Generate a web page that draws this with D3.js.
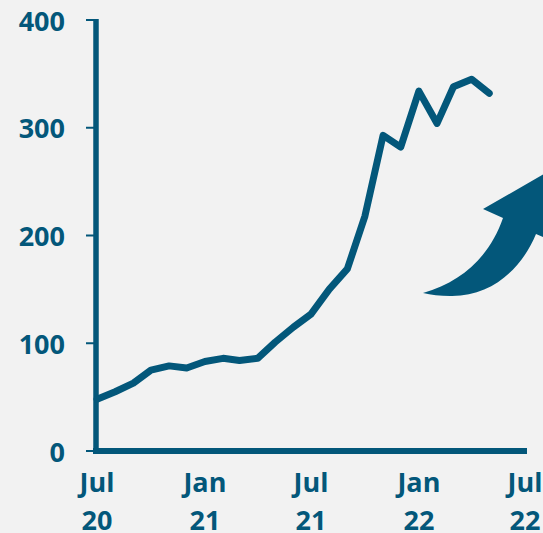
<!DOCTYPE html>
<html lang="en">
<head>
	<title>Monthly series</title>
	<script src="https://d3js.org/d3.v7.min.js" charset="utf-8"></script>
	<style>
		html, body {
			margin: 0;
			padding: 0;
			background: #f2f2f2;
		}
		.lbl {
			font-family: "Open Sans", Lato, sans-serif;
			font-weight: 700;
			font-size: 27px;
			fill: #03577a;
		}
	</style>
</head>
<body>
	<script>
		// Data: one point per month, Jul 2020 - May 2022
		var months = ["2020-07", "2020-08", "2020-09", "2020-10", "2020-11", "2020-12",
			"2021-01", "2021-02", "2021-03", "2021-04", "2021-05", "2021-06",
			"2021-07", "2021-08", "2021-09", "2021-10", "2021-11", "2021-12",
			"2022-01", "2022-02", "2022-03", "2022-04", "2022-05"];
		var values = [48, 55, 63, 75, 79, 77,
			83, 86, 84, 86, 101, 115,
			127, 150, 169, 218, 293, 282,
			334, 304, 338, 345, 332];

		var yTicks = [0, 100, 200, 300, 400];
		var xTicks = ["2020-07", "2021-01", "2021-07", "2022-01", "2022-07"];
		var xTickTop = ["Jul", "Jan", "Jul", "Jan", "Jul"];
		var xTickBottom = ["20", "21", "21", "22", "22"];

		var color = "#03577a";
		var w = 543;
		var h = 533;

		var parse = d3.timeParse("%Y-%m");

		var svg = d3.select("body")
			.append("svg")
			.attr("width", w)
			.attr("height", h)
			.style("display", "block");

		var xScale = d3.scaleTime()
			.domain([parse("2020-07"), parse("2022-07")])
			.range([97, 525]);

		var yScale = d3.scaleLinear()
			.domain([0, 400])
			.range([451, 20]);

		// y ticks (thin) + labels
		svg.selectAll(".ytick")
			.data(yTicks)
			.enter()
			.append("line")
			.attr("class", "ytick")
			.attr("x1", 86)
			.attr("x2", 96)
			.attr("y1", function(d){ return yScale(d); })
			.attr("y2", function(d){ return yScale(d); })
			.attr("stroke", color)
			.attr("stroke-width", 2);

		svg.selectAll(".ylab")
			.data(yTicks)
			.enter()
			.append("text")
			.attr("class", "lbl ylab")
			.attr("text-anchor", "end")
			.attr("dominant-baseline", "central")
			.attr("x", 65)
			.attr("y", function(d){ return yScale(d); })
			.text(function(d){ return d; });

		// axis lines
		svg.append("line")
			.attr("x1", 96)
			.attr("x2", 96)
			.attr("y1", yScale(400) - 1)
			.attr("y2", yScale(0) + 3)
			.attr("stroke", color)
			.attr("stroke-width", 5.5);

		svg.append("line")
			.attr("x1", 93)
			.attr("x2", 527)
			.attr("y1", yScale(0))
			.attr("y2", yScale(0))
			.attr("stroke", color)
			.attr("stroke-width", 6);

		// x labels, two lines each
		var xl = svg.selectAll(".xlab")
			.data(xTicks)
			.enter()
			.append("g")
			.attr("class", "xlab")
			.attr("transform", function(d){ return "translate(" + xScale(parse(d)) + ",0)"; });

		xl.append("text")
			.attr("class", "lbl")
			.attr("text-anchor", "middle")
			.attr("y", 492)
			.text(function(d, i){ return xTickTop[i]; });

		xl.append("text")
			.attr("class", "lbl")
			.attr("text-anchor", "middle")
			.attr("y", 530)
			.text(function(d, i){ return xTickBottom[i]; });

		// the series
		var line = d3.line()
			.x(function(d, i){ return xScale(parse(months[i])); })
			.y(function(d){ return yScale(d); });

		svg.append("path")
			.datum(values)
			.attr("d", line)
			.attr("fill", "none")
			.attr("stroke", color)
			.attr("stroke-width", 7)
			.attr("stroke-linejoin", "round")
			.attr("stroke-linecap", "round");

		// decorative curved arrow, bottom right
		svg.append("path")
			.attr("d", "M423,293 C462,282 490,256 503,218 L483,209 L565,162 L565,246 L536,234 C522,268 492,297 450,296 C440,296 431,295 423,293 Z")
			.attr("fill", color);
	</script>
</body>
</html>
